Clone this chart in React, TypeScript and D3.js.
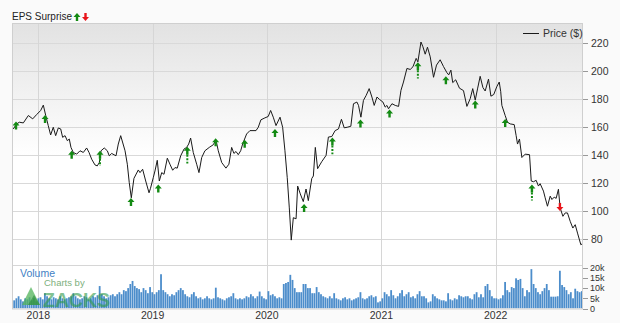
import React from "react";
import * as d3 from "d3";

// ---- DATA ----
// decimal-year dates of price observations
const priceDates: number[] = [
  2017.781, 2017.811, 2017.834, 2017.869, 2017.913, 2017.951, 2017.986, 2018.021, 2018.044, 2018.065,
  2018.087, 2018.108, 2018.131, 2018.152, 2018.175, 2018.196, 2018.213, 2018.234, 2018.254, 2018.271,
  2018.286, 2018.306, 2018.336, 2018.365, 2018.394, 2018.423, 2018.444, 2018.467, 2018.496, 2018.516,
  2018.534, 2018.549, 2018.577, 2018.604, 2018.621, 2018.642, 2018.680, 2018.700, 2018.721, 2018.759,
  2018.779, 2018.796, 2018.814, 2018.837, 2018.875, 2018.890, 2018.913, 2018.940, 2018.969, 2018.982,
  2019.006, 2019.021, 2019.041, 2019.059, 2019.080, 2019.100, 2019.129, 2019.152, 2019.176, 2019.196,
  2019.216, 2019.246, 2019.275, 2019.298, 2019.316, 2019.333, 2019.356, 2019.386, 2019.406, 2019.430,
  2019.458, 2019.496, 2019.531, 2019.555, 2019.575, 2019.605, 2019.642, 2019.668, 2019.692, 2019.712,
  2019.730, 2019.750, 2019.771, 2019.788, 2019.823, 2019.852, 2019.905, 2019.925, 2019.948, 2019.983,
  2020.012, 2020.033, 2020.056, 2020.080, 2020.115, 2020.138, 2020.158, 2020.178, 2020.196, 2020.213,
  2020.231, 2020.255, 2020.269, 2020.292, 2020.318, 2020.342, 2020.362, 2020.392, 2020.406, 2020.423,
  2020.443, 2020.479, 2020.517, 2020.537, 2020.567, 2020.596, 2020.625, 2020.651, 2020.675, 2020.701,
  2020.733, 2020.756, 2020.786, 2020.800, 2020.821, 2020.843, 2020.867, 2020.893, 2020.917, 2020.937,
  2020.961, 2020.983, 2021.013, 2021.033, 2021.048, 2021.062, 2021.092, 2021.121, 2021.150, 2021.171,
  2021.193, 2021.223, 2021.252, 2021.276, 2021.304, 2021.319, 2021.346, 2021.363, 2021.383, 2021.403,
  2021.427, 2021.456, 2021.482, 2021.514, 2021.543, 2021.573, 2021.589, 2021.608, 2021.624, 2021.650,
  2021.683, 2021.718, 2021.748, 2021.777, 2021.799, 2021.821, 2021.841, 2021.864, 2021.888, 2021.908,
  2021.937, 2021.958, 2021.983, 2022.009, 2022.031, 2022.044, 2022.054, 2022.083, 2022.103, 2022.127,
  2022.162, 2022.179, 2022.191, 2022.208, 2022.229, 2022.258, 2022.296, 2022.311, 2022.331, 2022.354,
  2022.374, 2022.389, 2022.418, 2022.433, 2022.453, 2022.477, 2022.492, 2022.512, 2022.529, 2022.549,
  2022.564, 2022.588, 2022.608, 2022.628, 2022.652, 2022.675, 2022.696, 2022.716, 2022.745, 2022.766,
];

const priceValues: number[] = [
  158.4, 162.0, 163.2, 162.7, 168.0, 165.6, 168.7, 171.6, 175.4, 168.0,
  160.8, 154.1, 159.6, 153.6, 159.1, 158.4, 152.4, 153.6, 150.0, 151.2,
  145.2, 141.6, 140.4, 142.8, 141.6, 144.8, 141.6, 136.8, 132.7, 132.0,
  134.4, 142.8, 144.8, 142.8, 139.2, 140.9, 139.2, 147.6, 153.6, 142.8,
  133.2, 120.0, 109.2, 123.1, 129.1, 127.2, 129.6, 121.2, 112.8, 116.0,
  123.6, 128.4, 136.0, 121.2, 127.2, 126.0, 137.5, 133.2, 128.9, 130.8,
  130.4, 139.2, 144.0, 145.2, 147.6, 151.9, 141.6, 133.2, 127.2, 138.0,
  142.8, 145.2, 147.1, 150.5, 142.8, 134.4, 130.4, 133.2, 145.2, 140.9,
  142.3, 140.0, 142.8, 147.6, 154.8, 157.2, 157.2, 159.6, 164.9, 166.3,
  167.3, 171.6, 166.8, 160.8, 166.8, 159.6, 142.8, 123.6, 102.0, 79.0,
  95.0, 94.2, 117.6, 112.0, 106.5, 115.5, 107.2, 123.0, 124.8, 145.2,
  130.0, 135.0, 139.5, 152.6, 153.0, 157.2, 158.4, 165.3, 159.2, 159.6,
  160.3, 176.4, 177.6, 175.2, 166.8, 178.8, 182.4, 187.2, 181.2, 175.2,
  181.2, 179.5, 177.6, 174.0, 175.2, 172.8, 176.4, 175.2, 174.5, 186.0,
  191.9, 201.6, 200.9, 202.8, 208.8, 206.3, 220.5, 217.1, 211.8, 216.8,
  209.9, 195.3, 204.0, 207.8, 203.0, 198.6, 197.0, 200.4, 191.5, 193.5,
  187.5, 185.8, 174.5, 180.0, 187.2, 179.0, 187.0, 196.0, 188.0, 185.5,
  194.0, 181.8, 183.0, 188.5, 191.9, 185.0, 175.2, 168.0, 163.2, 162.0,
  161.5, 153.6, 147.6, 151.2, 138.0, 140.4, 140.0, 121.2, 120.7, 121.7,
  117.6, 119.3, 114.0, 109.2, 103.2, 110.4, 108.0, 109.7, 108.8, 115.3,
  102.0, 96.0, 98.4, 98.4, 92.4, 87.6, 90.0, 84.0, 75.7, 76.8,
];

// EPS surprise events
const epsDates: number[] = [
  2017.805, 2018.059, 2018.292, 2018.540, 2018.811, 2019.050, 2019.304, 2019.552, 2019.806, 2020.071,
  2020.325, 2020.572, 2020.817, 2021.071, 2021.319, 2021.564, 2021.821, 2022.083, 2022.317, 2022.562,
];
const epsPrice: number[] = [
  163.7, 168.3, 142.8, 142.8, 109.0, 118.7, 145.7, 151.8, 150.7, 158.3,
  104.7, 152.2, 165.1, 172.3, 206.1, 196.0, 178.8, 165.5, 118.7, 99.8,
];
const epsDirection: string[] = [
  "up", "up", "up", "up", "up", "up", "up", "up", "up", "up",
  "up", "up", "up", "up", "up", "up", "up", "up", "up", "down",
];
// lower end of dashed stem (price), null when none
const epsDashEnd: (number | null)[] = [
  null, null, null, 132.0, null, null, 133.7, null, null, null,
  null, 140.4, null, null, 194.4, null, null, null, 107.3, null,
];

// weekly volume (thousands), one value per Monday from 2017-10-09 to 2022-10-03
const volume2017: number[] = [4.5, 4, 5, 6, 4.5, 3.5, 5, 4.5, 5.5, 4, 5, 3.5];
const volume2018: number[] = [
  5, 5.5, 4.5, 7.5, 6, 5, 4.5, 5.5, 5, 4.5,
  6, 5, 4.5, 5, 5.5, 6, 7.5, 6, 5, 4.5,
  5, 6, 5.5, 4.5, 5, 6, 5.5, 6.5, 11, 7,
  6, 5, 5.5, 6.5, 7, 6, 7, 8, 7, 9,
  8.5, 10, 12, 13.5, 11, 10, 9.5, 8, 10, 9,
  7.5, 10.5, 8,
];
const volume2019: number[] = [
  7, 8, 9, 16.8, 9, 8, 7, 6, 7, 6.5,
  8, 9, 10, 9, 7, 6, 5.5, 7, 8, 6,
  5, 5.5, 4.5, 5, 6, 5, 4.5, 5, 10.2, 5.5,
  5, 4.5, 4, 5, 5.5, 6, 7.5, 5, 4.5, 5,
  4.5, 5, 6, 5.5, 7, 6, 5, 6, 8.3, 6,
  5, 4.5,
];
const volume2020: number[] = [
  8.5, 6.5, 7, 6, 5, 5.5, 5, 12, 12.5, 13,
  16.5, 14, 10, 8, 8, 8, 12, 12, 10, 10,
  7.5, 7.5, 10.5, 8, 7, 6, 5.5, 5, 6, 5,
  7.5, 5, 4.5, 4, 5, 5.5, 4.5, 5, 4, 4.5,
  5, 5.5, 8, 5, 4.5, 5, 6, 6.5, 5.5, 6,
  3, 3.5,
];
const volume2021: number[] = [
  5, 8, 7, 6, 9, 6.5, 5, 6, 7.5, 9,
  6, 7, 8, 5.5, 6, 5, 7, 8.5, 6, 6,
  5, 3, 3.5, 7, 6, 5, 4.5, 4, 4, 3.5,
  7.5, 4.5, 4, 5, 4.5, 6.5, 6, 5.5, 6, 6,
  5, 4.5, 7, 8, 5.5, 7, 5.5, 11, 12, 9,
  6, 5,
];
const volume2022: number[] = [
  5, 4.5, 5, 6.5, 13, 9, 8, 10.5, 10, 14.8,
  14, 14.5, 10, 6, 9, 8, 19.3, 12, 10, 8,
  7, 8.5, 10, 12, 9, 5.8, 5.8, 5.8, 6, 18.5,
  11.5, 10.5, 9, 7, 8, 5, 9.7, 8.5, 8, 8.5,
];
const volumeK: number[] = [
  ...volume2017, ...volume2018, ...volume2019, ...volume2020, ...volume2021, ...volume2022,
];

const priceTicks: number[] = [80, 100, 120, 140, 160, 180, 200, 220];
const volumeTicks: number[] = [0, 5000, 10000, 15000, 20000];
const volumeTickLabels: string[] = ["0", "5k", "10k", "15k", "20k"];
const yearTicks: number[] = [2018, 2019, 2020, 2021, 2022];

// ---- helpers ----
const decToDate = (t: number) => {
  const y = Math.floor(t);
  const a = Date.UTC(y, 0, 1);
  const b = Date.UTC(y + 1, 0, 1);
  return new Date(a + (t - y) * (b - a));
};

const FONT = "'Liberation Sans', Arial, sans-serif";

export default function App() {
  const W = 620, H = 323;
  const left = 12, right = 583, top = 23, paneSplit = 265.5, bottom = 308.5;

  const x = d3.scaleUtc()
    .domain([new Date(Date.UTC(2018, 0, 1)), new Date(Date.UTC(2022, 0, 1))])
    .range([38.3, 495.7]);
  const y = d3.scaleLinear().domain([80, 220]).range([238.7, 42.7]);
  const yv = d3.scaleLinear().domain([0, 20000]).range([bottom, 267.7]);

  const pts = priceDates.map((d, i) => ({ d: decToDate(d), v: priceValues[i] }));
  const line = d3.line<{ d: Date; v: number }>().x((p) => x(p.d)).y((p) => y(p.v));

  const weeks = d3.utcMonday.range(new Date(Date.UTC(2017, 9, 9)), new Date(Date.UTC(2022, 9, 4)));
  const barW = 1.8;

  const green = "#138a13";
  const red = "#e8141a";

  const upArrow = (cx: number, cy: number) =>
    `M${cx},${cy} L${cx + 3.5},${cy + 4} L${cx + 1.2},${cy + 4} L${cx + 1.2},${cy + 8} L${cx - 1.2},${cy + 8} L${cx - 1.2},${cy + 4} L${cx - 3.5},${cy + 4} Z`;
  const downArrow = (cx: number, cy: number) =>
    `M${cx},${cy} L${cx + 3.5},${cy - 4} L${cx + 1.2},${cy - 4} L${cx + 1.2},${cy - 8} L${cx - 1.2},${cy - 8} L${cx - 1.2},${cy - 4} L${cx - 3.5},${cy - 4} Z`;

  return (
    <svg width={W} height={H} style={{ position: "absolute", left: 0, top: 0, background: "#fafafa" }}
      fontFamily={FONT}>
      <defs>
        <linearGradient id="bg" x1="0" y1="0" x2="0" y2="1">
          <stop offset="0" stopColor="#e2e2e2" />
          <stop offset="0.55" stopColor="#ffffff" />
          <stop offset="1" stopColor="#ffffff" />
        </linearGradient>
        <clipPath id="clip">
          <rect x={left} y={top} width={right - left} height={bottom - top} />
        </clipPath>
      </defs>
      <rect x={0} y={0} width={W} height={H} fill="#fafafa" />
      <rect x={left} y={top} width={right - left} height={paneSplit - top} fill="url(#bg)" />
      <rect x={left} y={paneSplit} width={right - left} height={bottom - paneSplit} fill="#ffffff" />

      {/* horizontal grid */}
      {priceTicks.map((t) => (
        <line key={"hg" + t} x1={left} x2={right} y1={Math.round(y(t)) + 0.5} y2={Math.round(y(t)) + 0.5}
          stroke="#d9d9d9" strokeWidth={1} />
      ))}
      {/* vertical grid */}
      {yearTicks.map((t) => {
        const xx = Math.round(x(new Date(Date.UTC(t, 0, 1)))) + 0.5;
        return <line key={"vg" + t} x1={xx} x2={xx} y1={top} y2={bottom} stroke="#d6d6d6" strokeWidth={1} />;
      })}
      <line x1={left} x2={right} y1={paneSplit} y2={paneSplit} stroke="#d6d6d6" />

      {/* volume bars */}
      <g clipPath="url(#clip)">
        {weeks.map((wk, i) => (
          <rect key={"v" + i} x={x(wk) - barW / 2} y={yv(volumeK[i] * 1000)} width={barW}
            height={bottom - yv(volumeK[i] * 1000)} fill="#4c8dcb" />
        ))}
      </g>

      {/* watermark */}
      <text x={20} y={276.5} fontSize={10.5} fill="#3f7fc4">Volume</text>
      <path d="M22,305 L31,287 L40,305 Z" fill="#52b35a" opacity={0.75} />
      <path d="M28,305 L34,295 L40,305 Z" fill="#2a8a3a" opacity={0.6} />
      <text x={44} y={285.5} fontSize={9.5} fill="#70a870" opacity={0.9}>Charts by</text>
      <text x={43} y={306.5} fontSize={20} fontWeight="bold" fill="#2f9a4a" opacity={0.6}
        textLength={67} lengthAdjust="spacingAndGlyphs">ZACKS</text>

      {/* price line */}
      <path d={line(pts) || ""} fill="none" stroke="#1a1a1a" strokeWidth={1} clipPath="url(#clip)" />

      {/* EPS arrows */}
      {epsDates.map((d, i) => {
        const cx = x(decToDate(d));
        const cy = y(epsPrice[i]);
        if (epsDirection[i] === "down") {
          return <path key={"e" + i} d={downArrow(cx, cy)} fill={red} />;
        }
        const de = epsDashEnd[i];
        return (
          <g key={"e" + i}>
            {de !== null && (
              <line x1={cx} x2={cx} y1={cy + 8} y2={y(de)} stroke={green} strokeWidth={2} strokeDasharray="2,1.5" />
            )}
            <path d={upArrow(cx, cy)} fill={green} />
          </g>
        );
      })}

      {/* frame */}
      <rect x={left + 0.5} y={top + 0.5} width={right - left - 1} height={bottom - top} fill="none" stroke="#cfcfcf" />

      {/* right price axis */}
      {priceTicks.map((t) => (
        <g key={"pt" + t}>
          <line x1={right} x2={right + 5} y1={Math.round(y(t)) + 0.5} y2={Math.round(y(t)) + 0.5} stroke="#999" />
          <text x={591} y={y(t) + 4} fontSize={10.5} fill="#333">{t}</text>
        </g>
      ))}
      {/* volume axis */}
      {volumeTicks.map((t, i) => (
        <g key={"vt" + t}>
          <line x1={right} x2={right + 5} y1={Math.round(yv(t)) + 0.5} y2={Math.round(yv(t)) + 0.5} stroke="#999" />
          <text x={590} y={yv(t) + 3.2} fontSize={9} fill="#333">{volumeTickLabels[i]}</text>
        </g>
      ))}
      {/* year labels */}
      {yearTicks.map((t) => (
        <text key={"yl" + t} x={x(new Date(Date.UTC(t, 0, 1)))} y={319} fontSize={10.5} fill="#333" textAnchor="middle">{t}</text>
      ))}

      {/* title */}
      <text x={12} y={20} fontSize={11.5} fill="#222" textLength={60} lengthAdjust="spacingAndGlyphs">EPS Surprise</text>
      <path d={upArrow(77, 13)} fill={green} />
      <path d={downArrow(85.5, 21)} fill={red} />

      {/* legend */}
      <line x1={523} x2={539} y1={33.5} y2={33.5} stroke="#1a1a1a" strokeWidth={1} />
      <text x={543} y={37} fontSize={10.5} fill="#333">Price ($)</text>
    </svg>
  );
}
